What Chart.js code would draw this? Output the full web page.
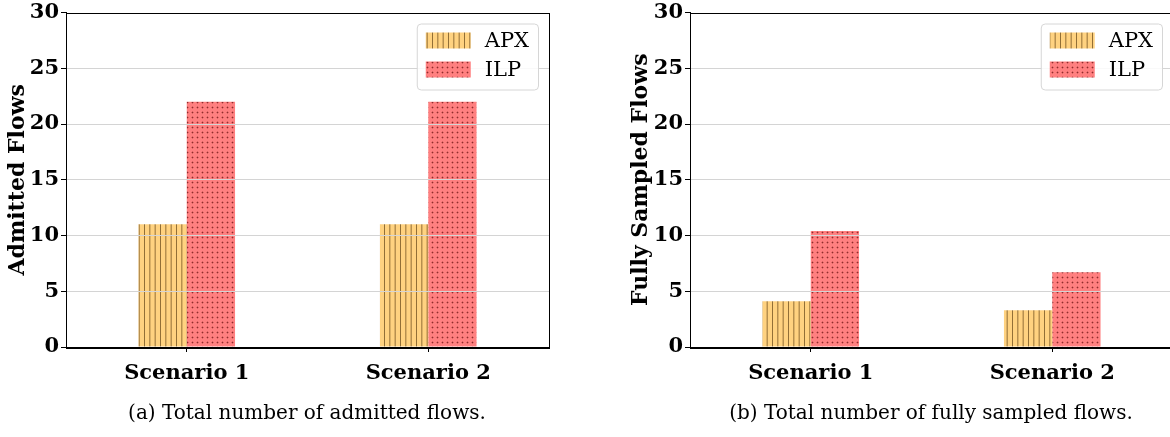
<!DOCTYPE html>
<html><head><meta charset="utf-8">
<script src="https://cdn.jsdelivr.net/npm/chart.js@4/dist/chart.umd.min.js"></script>
<style>
html,body{margin:0;padding:0;background:#fff;overflow:hidden;width:1170px;height:437px;position:relative;}
.wrap{position:absolute;top:0;}
.cap{position:absolute;top:400px;font-family:'DejaVu Serif';font-size:20px;white-space:nowrap;transform:translateX(-50%);color:#000;}
</style></head><body>
<div class="wrap" style="left:0"><canvas id="c1" width="560" height="437"></canvas></div>
<div class="wrap" style="left:580px"><canvas id="c2" width="600" height="437"></canvas></div>
<div class="cap" style="left:307px">(a) Total number of admitted flows.</div>
<div class="cap" style="left:931px">(b) Total number of fully sampled flows.</div>
<script>
// ---- data ----
const categories = ['Scenario 1', 'Scenario 2'];
const seriesNames = ['APX', 'ILP'];
const admittedAPX = [11, 11];
const admittedILP = [22, 22];
const sampledAPX = [4.1, 3.3];
const sampledILP = [10.4, 6.7];
const yMin = 0, yMax = 30, yStep = 5;
const yTitles = ['Admitted Flows', 'Fully Sampled Flows'];

// ---- styles ----
function stripePattern() {
  const c = document.createElement('canvas'); c.width = 16; c.height = 16;
  const x = c.getContext('2d');
  x.fillStyle = 'rgb(255,210,128)'; x.fillRect(0, 0, 16, 16);
  x.strokeStyle = 'rgba(110,78,30,0.75)'; x.lineWidth = 1;
  [0.5, 5.83, 11.17].forEach(px => { x.beginPath(); x.moveTo(px, 0); x.lineTo(px, 16); x.stroke(); });
  return x.createPattern(c, 'repeat');
}
function dotPattern() {
  const c = document.createElement('canvas'); c.width = 5; c.height = 5;
  const x = c.getContext('2d');
  x.fillStyle = 'rgb(255,128,128)'; x.fillRect(0, 0, 5, 5);
  x.fillStyle = 'rgba(140,40,40,0.3)'; x.fillRect(1, 2, 3, 1); x.fillRect(2, 1, 1, 3);
  x.fillStyle = 'rgba(110,20,20,0.6)'; x.fillRect(2, 2, 1, 1);
  return x.createPattern(c, 'repeat');
}
const FONT = "'DejaVu Serif'";

const boxLegend = {
  id: 'boxLegend',
  afterDraw(chart) {
    const ctx = chart.ctx, a = chart.chartArea;
    ctx.save();
    ctx.strokeStyle = '#000'; ctx.lineWidth = 1;
    ctx.strokeRect(Math.round(a.left) + 0.5, Math.round(a.top) + 0.5, Math.round(a.right - a.left), Math.round(a.bottom - a.top));
    ctx.font = '21px ' + FONT;
    const tw = Math.max(...chart.data.datasets.map(d => ctx.measureText(d.label).width));
    const w = 9 + 45 + 14 + tw + 9, h = 66;
    const lx = a.right - 11 - w, ly = a.top + 11;
    ctx.beginPath();
    ctx.roundRect(lx + 0.5, ly + 0.5, w, h, 4);
    ctx.fillStyle = 'rgba(255,255,255,0.85)'; ctx.fill();
    ctx.strokeStyle = '#d6d6d6'; ctx.stroke();
    chart.data.datasets.forEach((d, i) => {
      const cy = ly + 17 + i * 29;
      ctx.fillStyle = d.backgroundColor;
      ctx.fillRect(lx + 9, cy - 8, 45, 16);
      ctx.fillStyle = '#000'; ctx.textBaseline = 'middle'; ctx.textAlign = 'left';
      ctx.fillText(d.label, lx + 68, cy + 1);
    });
    ctx.restore();
  }
};

function makeChart(id, apx, ilp, title, opts) {
  return new Chart(document.getElementById(id), {
    type: 'bar',
    data: {
      labels: categories,
      datasets: [
        { label: seriesNames[0], data: apx, backgroundColor: stripePattern(), borderWidth: 0 },
        { label: seriesNames[1], data: ilp, backgroundColor: dotPattern(), borderWidth: 0 }
      ]
    },
    options: {
      responsive: false, animation: false,
      categoryPercentage: 0.4, barPercentage: 1.0,
      layout: { padding: { top: 11, right: opts.padRight, bottom: 0, left: opts.padLeft } },
      plugins: { legend: { display: false }, tooltip: { enabled: false } },
      scales: {
        x: {
          offset: true,
          grid: { offset: false, drawOnChartArea: false, drawTicks: true, tickLength: 5, tickColor: '#000', z: 1 },
          border: { display: true, color: '#000', width: 1, z: 2 },
          ticks: { color: '#000', padding: 11, font: { family: FONT, size: 21, weight: 'bold', lineHeight: 1 } },
          afterFit(s) { s.height = 90; }
        },
        y: {
          min: yMin, max: yMax,
          ticks: { stepSize: yStep, color: '#000', padding: 2, font: { family: FONT, size: 21, weight: 'bold', lineHeight: 1 } },
          grid: { color: (c) => (c.tick && (c.tick.value === yMin || c.tick.value === yMax)) ? 'rgba(0,0,0,0)' : '#d4d4d4',
                  tickColor: '#000', tickLength: 5, z: 1 },
          border: { display: true, color: '#000', width: 1, z: 2 },
          title: { display: true, text: title, color: '#000', padding: { top: 5, bottom: 0 },
                   font: { family: FONT, size: 22, weight: 'bold', lineHeight: 1.2 } },
          afterFit(s) { s.width = opts.yWidth; }
        }
      }
    },
    plugins: [boxLegend]
  });
}

makeChart('c1', admittedAPX, admittedILP, yTitles[0], { padLeft: 0, padRight: 11, yWidth: 66 });
makeChart('c2', sampledAPX, sampledILP, yTitles[1], { padLeft: 43, padRight: 7, yWidth: 67 });
</script>
</body></html>
